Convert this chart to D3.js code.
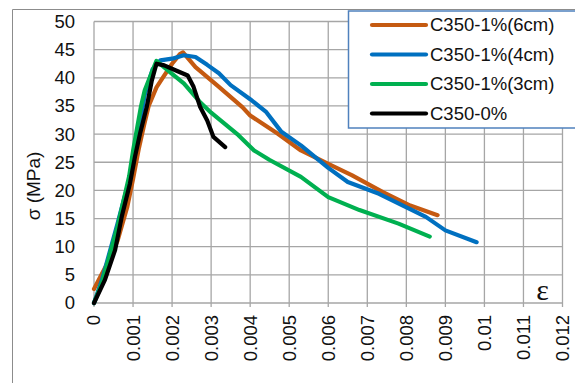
<!DOCTYPE html>
<html>
<head>
<meta charset="utf-8">
<script src="https://cdnjs.cloudflare.com/ajax/libs/d3/7.8.5/d3.min.js"></script>
<style>
  body { margin: 0; background: #fff; }
  svg { display: block; font-family: "Liberation Sans", Arial, sans-serif; }
</style>
</head>
<body>
<svg width="575" height="383"></svg>
<script>
// tick values
var xTicks = [0, 0.001, 0.002, 0.003, 0.004, 0.005, 0.006, 0.007, 0.008, 0.009, 0.01, 0.011, 0.012];
var yTicks = [0, 5, 10, 15, 20, 25, 30, 35, 40, 45, 50];

// series names and colors
var seriesNames = ["C350-1%(6cm)", "C350-1%(4cm)", "C350-1%(3cm)", "C350-0%"];
var seriesColors = ["#c55a11", "#0070c0", "#00b050", "#000000"];

// [strain, stress]
var fiber6cm = [[0,2.5],[0.0003,6.5],[0.0006,11],[0.00085,17],[0.001,22],[0.00115,27.5],[0.00128,31.5],
  [0.0014,35],[0.0016,38.3],[0.00178,40.2],[0.002,42.5],[0.0022,44.2],[0.00228,44.5],[0.0026,41.9],
  [0.0032,38.4],[0.0038,34.8],[0.004,33.3],[0.0047,30.1],[0.0053,27.1],[0.006,24.7],[0.0066,22.7],
  [0.0074,19.7],[0.0081,17.3],[0.0088,15.6]];
var fiber4cm = [[0,0],[0.0002,4],[0.0004,9],[0.0006,14],[0.00075,18],[0.00095,23],[0.0011,29],[0.0013,37],
  [0.0015,41.5],[0.0017,43.1],[0.002,43.4],[0.0023,44],[0.0026,43.7],[0.0029,42.3],[0.0032,40.8],
  [0.0035,38.7],[0.004,36.2],[0.0044,34],[0.0048,30.4],[0.0053,28],[0.006,24],[0.0065,21.5],
  [0.0073,19.4],[0.0085,15.3],[0.009,12.9],[0.0098,10.8]];
var fiber3cm = [[0,0],[0.0002,3.5],[0.0004,8.5],[0.0006,13.5],[0.00075,18],[0.0009,22.5],[0.001,27],
  [0.0012,34.8],[0.0013,37.8],[0.0015,41.3],[0.0016,43],[0.002,40.7],[0.0023,39],[0.0027,35.8],
  [0.003,33.8],[0.0037,29.8],[0.0041,27.1],[0.0045,25.4],[0.0053,22.4],[0.006,18.8],[0.0068,16.5],
  [0.0078,14.1],[0.0086,11.8]];
var fiber0 = [[0,0],[0.00028,4.1],[0.00054,9.4],[0.00071,15.3],[0.00092,21.2],[0.00105,26],[0.00118,30.1],
  [0.00135,34.8],[0.00148,39.5],[0.0016,42.5],[0.0018,42.2],[0.0021,41.3],[0.0024,40.4],[0.00255,38.4],
  [0.00272,34.8],[0.0029,32.4],[0.00306,29.5],[0.00336,27.7]];

var allSeries = [fiber6cm, fiber4cm, fiber3cm, fiber0];

var svg = d3.select("svg");

//plot area in pixels
var plotLeft = 94, plotRight = 562.5, plotTop = 21.5, plotBottom = 303;

var x = d3.scaleLinear().domain([0, 0.012]).range([plotLeft, plotRight]);
var y = d3.scaleLinear().domain([0, 50]).range([plotBottom, plotTop]);

//outer chart border (cut off by the picture edges)
svg.append("path")
  .attr("d", "M12.5,383 V9.5 H580")
  .attr("fill", "none")
  .attr("stroke", "#8c8c8c")
  .attr("stroke-width", 1);

//grid
var grid = svg.append("g");
grid.selectAll("line.v")
  .data(xTicks)
  .enter().append("line")
  .attr("class", "v")
  .attr("x1", function(d) { return x(d); })
  .attr("x2", function(d) { return x(d); })
  .attr("y1", plotTop)
  .attr("y2", plotBottom + 4)
  .attr("stroke", "#a6a6a6")
  .attr("stroke-width", 1.3);
grid.selectAll("line.h")
  .data(yTicks)
  .enter().append("line")
  .attr("class", "h")
  .attr("x1", plotLeft)
  .attr("x2", plotRight)
  .attr("y1", function(d) { return y(d); })
  .attr("y2", function(d) { return y(d); })
  .attr("stroke", "#a6a6a6")
  .attr("stroke-width", 1.3);

//y tick labels
svg.append("g").selectAll("text")
  .data(yTicks)
  .enter().append("text")
  .attr("x", 75)
  .attr("y", function(d) { return y(d); })
  .attr("dy", "0.35em")
  .attr("text-anchor", "end")
  .attr("font-size", 18.5)
  .attr("fill", "#111")
  .text(function(d) { return d; });

//x tick labels, rotated
svg.append("g").selectAll("text")
  .data(xTicks)
  .enter().append("text")
  .attr("transform", function(d) { return "translate(" + x(d) + ",315) rotate(-90)"; })
  .attr("dy", "0.35em")
  .attr("text-anchor", "end")
  .attr("font-size", 18.5)
  .attr("fill", "#111")
  .text(function(d) { return d; });

//axis titles
svg.append("text")
  .attr("transform", "translate(33.5,186) rotate(-90)")
  .attr("dy", "0.35em")
  .attr("text-anchor", "middle")
  .attr("font-size", 19)
  .attr("fill", "#111")
  .text("σ (MPa)");

svg.append("text")
  .attr("x", 542.5)
  .attr("y", 299.5)
  .attr("text-anchor", "middle")
  .attr("font-family", "'Liberation Serif', serif")
  .attr("font-size", 30)
  .attr("fill", "#111")
  .text("ε");

//curves
var line = d3.line()
  .x(function(d) { return x(d[0]); })
  .y(function(d) { return y(d[1]); });

svg.append("g").selectAll("path")
  .data(allSeries)
  .enter().append("path")
  .attr("d", line)
  .attr("fill", "none")
  .attr("stroke", function(d, i) { return seriesColors[i]; })
  .attr("stroke-width", 4.2)
  .attr("stroke-linejoin", "round")
  .attr("stroke-linecap", "round");

//legend
var legend = svg.append("g");
legend.append("rect")
  .attr("x", 348.5)
  .attr("y", 11)
  .attr("width", 240)
  .attr("height", 117)
  .attr("fill", "#fff")
  .attr("stroke", "#4f81bd")
  .attr("stroke-width", 1.5);

var rows = legend.selectAll("g.row")
  .data(seriesNames)
  .enter().append("g")
  .attr("class", "row")
  .attr("transform", function(d, i) { return "translate(0," + (25 + i * 29.5) + ")"; });
rows.append("line")
  .attr("x1", 372)
  .attr("x2", 426)
  .attr("stroke", function(d, i) { return seriesColors[i]; })
  .attr("stroke-width", 4.2)
  .attr("stroke-linecap", "round");
rows.append("text")
  .attr("x", 430)
  .attr("dy", "0.35em")
  .attr("font-size", 18.5)
  .attr("fill", "#111")
  .text(function(d) { return d; });
</script>
</body>
</html>
